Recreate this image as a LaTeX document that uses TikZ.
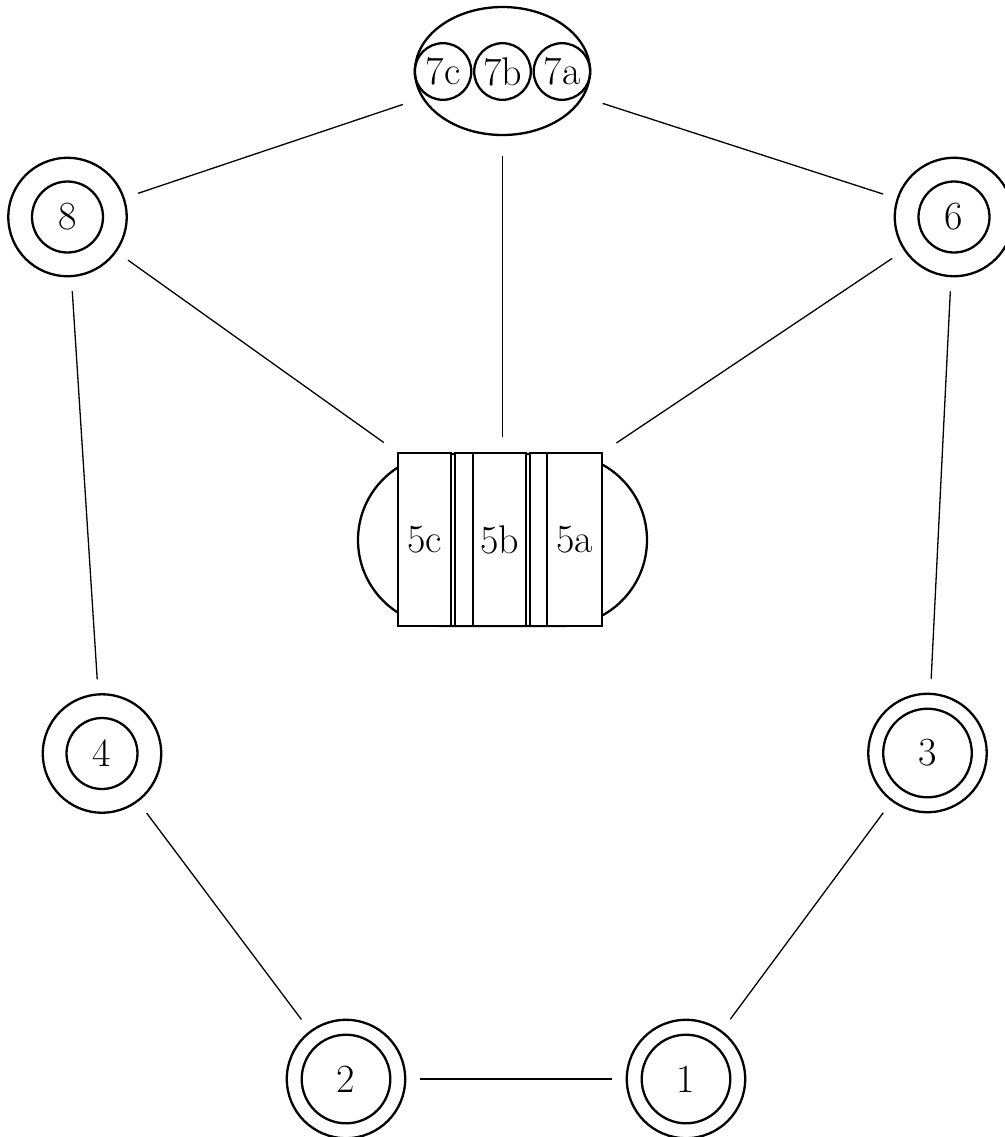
\documentclass[tikz,border=0pt]{standalone}
\usepackage{tikz}
\usetikzlibrary{shapes.geometric,shapes.misc}

\begin{document}
\begin{tikzpicture}[x=0.5pt,y=-0.5pt,
    font=\fontsize{20}{24}\selectfont,
    ring/.style={circle,draw,line width=1.15pt,minimum size=59.2pt,inner sep=0pt},
    ringsm/.style={ring,path picture={\draw[line width=1.15pt] (path picture bounding box.center) circle[radius=17.75pt];}},
    ringlg/.style={ring,path picture={\draw[line width=1.15pt] (path picture bounding box.center) circle[radius=22.15pt];}},
    pod/.style={circle,draw,line width=1.15pt,minimum size=28.3pt,inner sep=0pt},
    bar/.style={rectangle,draw,fill=white,line width=1.15pt,minimum width=26.5pt,minimum height=86.5pt,inner sep=0pt},
    slot/.style={bar,minimum width=9pt},
    link/.style={line width=0.65pt,shorten <=7pt,shorten >=7pt}]
  \useasboundingbox (0,0) rectangle (1005,1137);

  \node[ellipse,draw,line width=1.15pt,minimum width=87.5pt,minimum height=64pt,inner sep=0pt] (n7) at (502.5,71) {};
  \node[pod] (p7c) at (443,71.5) {7c};
  \node[pod] (p7b) at (502.5,71.5) {7b};
  \node[pod] (p7a) at (562,71.5) {7a};

  \node[rounded rectangle,draw,line width=1.15pt,minimum width=144.5pt,minimum height=86pt,inner sep=0pt] (n5) at (502.5,540) {};
  \node[bar] (b5c) at (424.5,539.5) {5c};
  \node[slot] (s5cb) at (464,539.5) {};
  \node[bar] (b5b) at (499.5,539.5) {5b};
  \node[slot,minimum width=8.5pt] (s5ba) at (538.5,539.5) {};
  \node[bar,minimum width=27.5pt] (b5a) at (574.5,539.5) {5a};

  \node[ringsm] (n8) at (67.5,217) {8};
  \node[ringsm] (n6) at (954,217) {6};
  \node[ringsm] (n4) at (102,753.5) {4};
  \node[ringlg] (n3) at (927.5,753) {3};
  \node[ringlg] (n2) at (346,1079) {2};
  \node[ringlg] (n1) at (686,1079) {1};

  \draw[link,shorten >=10pt] (n8) -- (n7);
  \draw[link,shorten <=10pt] (n7) -- (n6);
  \draw[link,shorten <=10pt,shorten >=8pt] (n7) -- (n5);
  \draw[link,shorten >=8pt] (n8) -- (b5c.north west);
  \draw[link,shorten >=8pt] (n6) -- (b5a.north east);
  \draw[link] (n8) -- (n4);
  \draw[link] (n6) -- (n3);
  \draw[link] (n4) -- (n2);
  \draw[link] (n3) -- (n1);
  \draw[link] (n2) -- (n1);
\end{tikzpicture}
\end{document}
